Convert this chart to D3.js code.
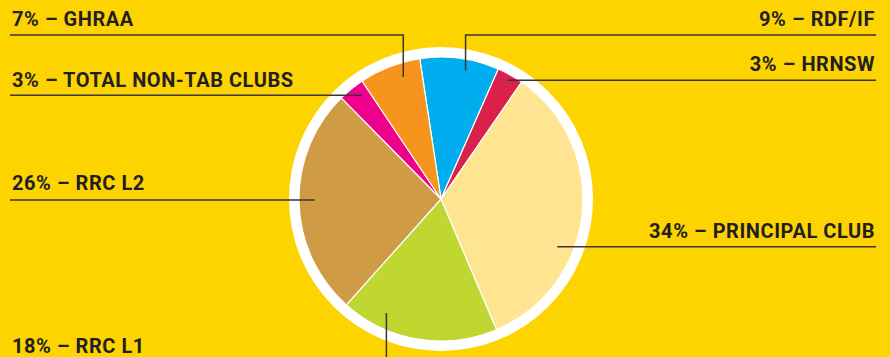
<!DOCTYPE html>
<html>
<head>
<meta charset="utf-8">
<script src="https://cdn.jsdelivr.net/npm/d3@7"></script>
<style>
	html, body { margin: 0; padding: 0; background: #fdd300; }
	svg { display: block; }
	.lbl { font-family: Roboto, "DejaVu Sans", sans-serif; font-weight: 700; font-size: 20px; fill: #231f20; letter-spacing: 0.55px; }
</style>
</head>
<body>
<svg id="chart" width="890" height="357"></svg>
<script>
// slices, clockwise from just left of 12 o'clock
var categories = ["RDF/IF", "HRNSW", "PRINCIPAL CLUB", "RRC L1", "RRC L2", "TOTAL NON-TAB CLUBS", "GHRAA"];
var shares = [9, 3, 34, 18, 26, 3, 7];
var colours = ["#00aeef", "#d9214b", "#ffe591", "#bfd730", "#cf9b45", "#ec008c", "#f7941d"];
var labelSide = ["right", "right", "right", "left", "left", "left", "left"];

var width = 890, height = 357;
var cx = 441, cy = 199;
var rOuter = 152, rPie = 142;
var startDeg = -8.6;

var svg = d3.select("#chart");

var pie = d3.pie()
	.sort(null)
	.value(function(d) { return d.value; })
	.startAngle(startDeg * Math.PI / 180)
	.endAngle(startDeg * Math.PI / 180 + 2 * Math.PI);

var data = categories.map(function(c, i) {
	return { name: c, value: shares[i], colour: colours[i], side: labelSide[i] };
});

var arcs = pie(data);
var arc = d3.arc().innerRadius(0).outerRadius(rPie);

var g = svg.append("g").attr("transform", "translate(" + cx + "," + cy + ")");

// white ring round the pie
g.append("circle")
	.attr("r", rOuter)
	.attr("fill", "#ffffff");

g.selectAll("path.slice")
	.data(arcs)
	.enter()
	.append("path")
	.attr("class", "slice")
	.attr("d", arc)
	.attr("fill", function(d) { return d.data.colour; })
	.attr("stroke", "#ffffff")
	.attr("stroke-width", 1.2)
	.attr("stroke-linejoin", "round");

// where the leader touches each slice: [fraction across slice, fraction of radius]
var anchorAt = {
	"RDF/IF": [0.60, 0.92],
	"HRNSW": [0.51, 0.96],
	"PRINCIPAL CLUB": [0.635, 0.885],
	"RRC L1": [0.75, 0.89],
	"RRC L2": [0.51, 0.89],
	"TOTAL NON-TAB CLUBS": [0.67, 0.92],
	"GHRAA": [0.66, 0.9]
};

function anchor(d) {
	var f = anchorAt[d.data.name];
	var a = d.startAngle + (d.endAngle - d.startAngle) * f[0];
	return [cx + Math.sin(a) * rPie * f[1], cy - Math.cos(a) * rPie * f[1]];
}

var leftX = 10, rightX = 876;
var topRuleY = 35;

var lines = svg.append("g")
	.attr("fill", "none")
	.attr("stroke", "#3a3530")
	.attr("stroke-width", 1.5);

arcs.forEach(function(d) {
	var name = d.data.name;
	var p = anchor(d);
	var edge = d.data.side === "left" ? leftX : rightX;
	var pts;
	if (name === "RRC L1") {
		pts = [p, [p[0], height + 2]];
	} else if (name === "GHRAA" || name === "RDF/IF") {
		pts = [p, [p[0], topRuleY], [edge, topRuleY]];
	} else {
		pts = [p, [edge, p[1]]];
	}
	lines.append("path").attr("d", d3.line()(pts));
});

// text labels, baseline y
var baseline = {
	"GHRAA": 25.5,
	"TOTAL NON-TAB CLUBS": 86.5,
	"RRC L2": 189.5,
	"RDF/IF": 25.5,
	"HRNSW": 71,
	"PRINCIPAL CLUB": 237.5,
	"RRC L1": 353
};

svg.selectAll("text.lbl")
	.data(arcs)
	.enter()
	.append("text")
	.attr("class", "lbl")
	.attr("x", function(d) { return d.data.side === "left" ? 12 : 875; })
	.attr("y", function(d) { return baseline[d.data.name]; })
	.attr("text-anchor", function(d) { return d.data.side === "left" ? "start" : "end"; })
	.text(function(d) { return d.data.value + "% \u2013 " + d.data.name; });
</script>
</body>
</html>
